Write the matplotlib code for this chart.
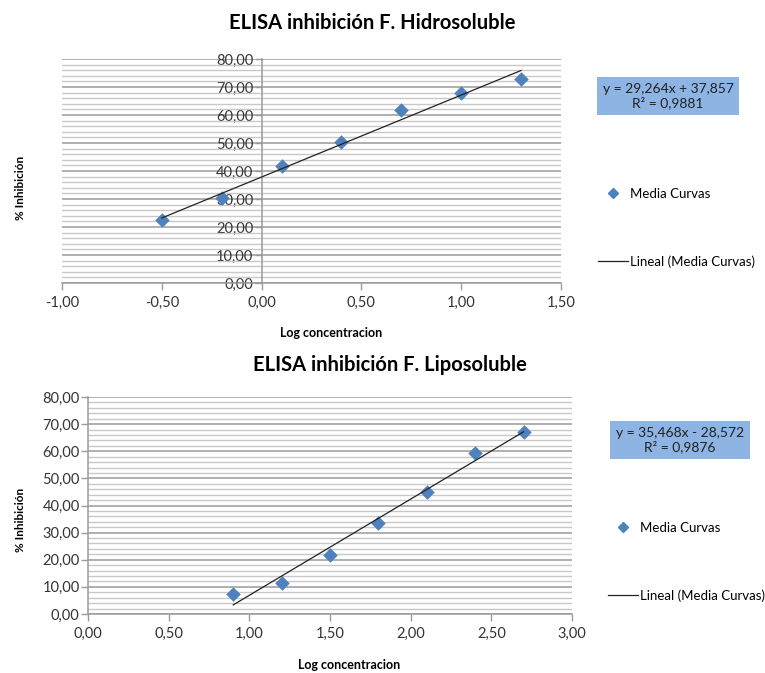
import matplotlib
matplotlib.use("Agg")
import matplotlib.pyplot as plt
import numpy as np
from matplotlib.lines import Line2D
from matplotlib.ticker import MultipleLocator, FuncFormatter

plt.rcParams['font.family'] = ['Lato', 'DejaVu Sans']

# ---- data ----
hidro_x = [-0.5, -0.2, 0.1, 0.4, 0.7, 1.0, 1.3]
hidro_y = [22.5, 30.3, 41.7, 50.3, 61.7, 68.0, 72.8]
hidro_slope, hidro_icpt = 29.264, 37.857
hidro_eq = "y = 29,264x + 37,857\nR² = 0,9881"

lipo_x = [0.9, 1.2, 1.5, 1.8, 2.1, 2.4, 2.7]
lipo_y = [7.2, 11.5, 21.8, 33.5, 45.0, 59.5, 67.0]
lipo_slope, lipo_icpt = 35.468, -28.572
lipo_eq = "y = 35,468x - 28,572\nR² = 0,9876"

titles = ["ELISA inhibición F. Hidrosoluble", "ELISA inhibición F. Liposoluble"]
xlabel = "Log concentracion"
ylabel = "% Inhibición"
legend_labels = ["Media Curvas", "Lineal (Media Curvas)"]

MARK = '#4F81BD'
BOXC = '#8DB4E2'
W, H = 765, 673

fig = plt.figure(figsize=(7.65, 6.73), dpi=100)

def fx(px):
    return px / W

def fy(py):
    return 1 - py / H

def fmt(v, pos):
    return ("%.2f" % v).replace('.', ',')

def setup(ax, xlim):
    ax.set_xlim(*xlim)
    ax.set_ylim(0, 80)
    ax.yaxis.set_major_locator(MultipleLocator(10))
    ax.yaxis.set_minor_locator(MultipleLocator(2))
    ax.xaxis.set_major_locator(MultipleLocator(0.5))
    ax.xaxis.set_major_formatter(FuncFormatter(fmt))
    ax.yaxis.set_major_formatter(FuncFormatter(fmt))
    ax.grid(axis='y', which='major', color='#9a9a9a', lw=1.1)
    ax.grid(axis='y', which='minor', color='#c8c8c8', lw=1.0)
    ax.set_axisbelow(True)
    for s in ['top', 'right']:
        ax.spines[s].set_visible(False)
    ax.spines['left'].set_position(('data', 0))
    ax.spines['left'].set_color('#9a9a9a')
    ax.spines['bottom'].set_color('#9a9a9a')
    ax.spines['left'].set_linewidth(1.1)
    ax.spines['bottom'].set_linewidth(1.1)
    ax.tick_params(axis='both', which='major', colors='#9a9a9a', labelcolor='#333333',
                   labelsize=10.5, length=5, width=1)
    ax.tick_params(axis='y', which='minor', length=0)
    ax.tick_params(axis='x', pad=4)
    ax.tick_params(axis='y', pad=1)

def draw(ax, xs, ys, slope, icpt, title, eq, eqpos, legpos, titlepos, xlabpos, ylabpos):
    ax.scatter(xs, ys, marker='D', s=55, color=MARK, zorder=3, linewidths=0)
    xx = np.array([min(xs), max(xs)])
    ax.plot(xx, slope * xx + icpt, color='#222222', lw=0.9, zorder=4)
    fig.text(fx(titlepos[0]), fy(titlepos[1]), title, ha='center', va='center',
             fontsize=14.5, fontweight='bold')
    fig.text(fx(xlabpos[0]), fy(xlabpos[1]), xlabel, ha='center', va='center',
             fontsize=9, fontweight='bold')
    fig.text(fx(ylabpos[0]), fy(ylabpos[1]), ylabel, ha='center', va='center',
             fontsize=8.5, fontweight='bold', rotation=90)
    fig.text(fx(eqpos[0]), fy(eqpos[1]), eq, ha='center', va='center', fontsize=10,
             linespacing=1.1, color='#222222',
             bbox=dict(boxstyle='square,pad=0.42', fc=BOXC, ec='none'))
    handles = [Line2D([], [], marker='D', color=MARK, ls='none', markersize=5),
               Line2D([], [], color='#222222', lw=0.9)]
    fig.legend(handles, legend_labels, loc='upper left',
               bbox_to_anchor=(fx(legpos[0]), fy(legpos[1])),
               frameon=False, fontsize=9.5, labelspacing=4.2, handlelength=2.3,
               handletextpad=0.15, borderpad=0)

ax1 = fig.add_axes([fx(62), fy(283), (561 - 62) / W, (283 - 59) / H])
setup(ax1, (-1, 1.5))
draw(ax1, hidro_x, hidro_y, hidro_slope, hidro_icpt, titles[0], hidro_eq,
     (668, 96), (591, 181), (372, 23), (331, 333), (20, 188))

ax2 = fig.add_axes([fx(88), fy(614), (572 - 88) / W, (614 - 397) / H])
setup(ax2, (0, 3))
draw(ax2, lipo_x, lipo_y, lipo_slope, lipo_icpt, titles[1], lipo_eq,
     (680, 440), (601, 515), (390, 365), (349, 665), (20, 520))

fig.savefig('out.png', dpi=100)
